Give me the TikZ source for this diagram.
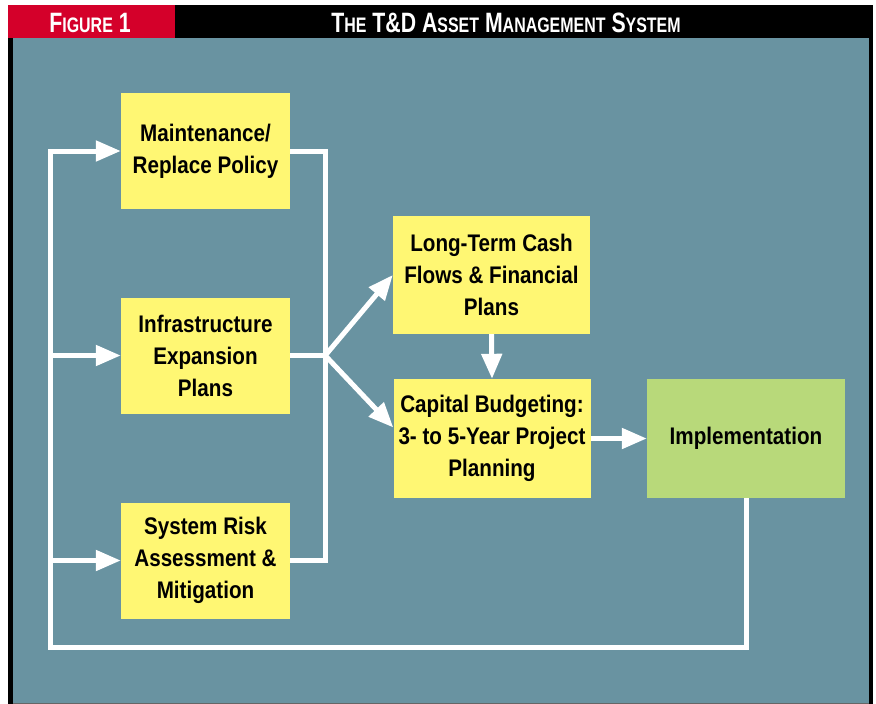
\documentclass[tikz,border=0pt]{standalone}
\usepackage{fontspec}
\setmainfont{Liberation Sans}[FakeStretch=0.86]
\newfontfamily\headfont{Liberation Sans}[FakeStretch=0.76]
\usepackage{tikz}
\usetikzlibrary{arrows.meta}

\definecolor{panelteal}{HTML}{6993A1}
\definecolor{boxyellow}{HTML}{FFF773}
\definecolor{boxgreen}{HTML}{B8D97A}
\definecolor{headred}{HTML}{D4002A}

\newcommand{\capsmall}[1]{{\fontsize{21}{21}\selectfont #1}}

\tikzset{
  planbox/.style={fill=boxyellow, align=center, inner sep=0pt,
    font=\fontsize{24}{32}\selectfont\bfseries},
  flow/.style={draw=white, line width=5pt},
  flowarrow/.style={flow, -{Triangle[length=25pt, width=20pt]}},
}

\begin{document}
\begin{tikzpicture}[x=1pt, y=-1pt]
  \useasboundingbox (0,0) rectangle (876,704);

  % title bar and panel
  \fill[headred] (8,5) rectangle (175,38);
  \fill[black] (175,5) rectangle (873,38);
  \fill[panelteal] (8,38) rectangle (873,704);
  \fill[black] (8,38) rectangle (13,704);
  \fill[black] (869,38) rectangle (873,704);
  \draw[black!60, line width=1pt] (13,703.5) -- (869,703.5);

  \node[anchor=base, text=white, font=\headfont\bfseries\fontsize{28}{28}\selectfont]
    (figno) at (90,32) {F\capsmall{IGURE} 1};
  \node[anchor=base, text=white, font=\headfont\bfseries\fontsize{28}{28}\selectfont]
    (title) at (506,32)
    {T\capsmall{HE} T\&D A\capsmall{SSET} M\capsmall{ANAGEMENT} S\capsmall{YSTEM}};

  % policy and planning inputs
  \foreach \name/\y/\txt in {
      maint/151/{Maintenance/\\Replace Policy},
      infra/355.5/{Infrastructure\\Expansion\\Plans},
      risk/560.5/{System Risk\\Assessment \&\\Mitigation}} {
    \node[planbox, minimum width=169pt, minimum height=116pt] (\name) at (205.5,\y) {\txt};
  }

  % financial plans and budgeting
  \node[planbox, minimum width=197pt, minimum height=118pt] (longterm) at (491.5,275)
    {Long-Term Cash\\Flows \& Financial\\Plans};
  \node[planbox, minimum width=197pt, minimum height=119pt] (capital) at (492,438.5)
    {Capital Budgeting:\\3- to 5-Year Project\\Planning};
  \node[planbox, fill=boxgreen, minimum width=198pt, minimum height=119pt] (impl) at (746,438.5)
    {Implementation};

  % feedback loop back to the inputs
  \coordinate (loopbl) at (50,647);
  \draw[flowarrow] (impl.south) |- (loopbl) |- (maint.west);
  \foreach \name in {infra,risk} {
    \draw[flowarrow] (loopbl |- \name.west) -- (\name.west);
  }

  % inputs gathered into one hub
  \coordinate (hub) at ([xshift=35pt]infra.east);
  \draw[flow] (maint.east) -| (hub) |- (risk.east);
  \draw[flow] (infra.east) -- (hub);
  \draw[flowarrow] (hub) -- (longterm.west);
  \draw[flowarrow] (hub) -- ([yshift=11pt]capital.west);

  \draw[flowarrow] (longterm.south) -- (capital.north);
  \draw[flowarrow] (capital.east) -- (impl.west);
\end{tikzpicture}
\end{document}
